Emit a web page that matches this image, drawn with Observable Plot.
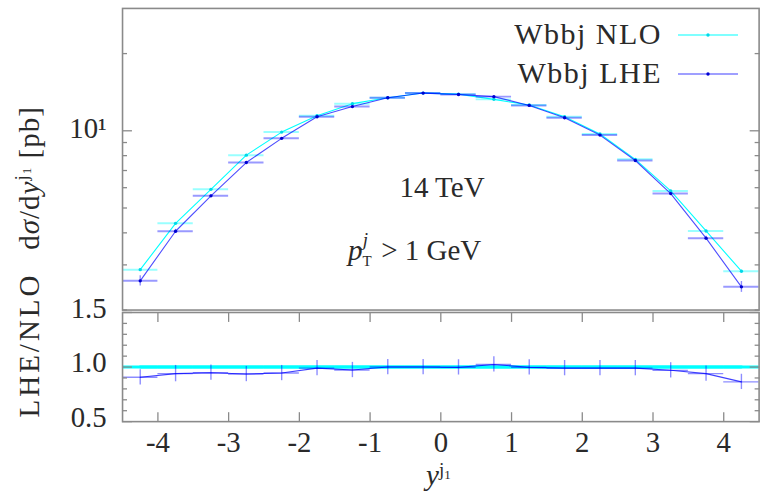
<!DOCTYPE html>
<html><head><meta charset="utf-8">
<script src="https://cdn.jsdelivr.net/npm/d3@7"></script>
<script src="https://cdn.jsdelivr.net/npm/@observablehq/plot@0.6"></script>
<style>
body{margin:0;background:#fff;overflow:hidden}
#wrap{position:relative;width:760px;height:496px;overflow:hidden;background:#fff}
#wrap svg{position:absolute;left:0;overflow:visible}
</style></head><body><div id="wrap"></div>
<script>
// ---- data ----
const binCenters = [-4.25,-3.75,-3.25,-2.75,-2.25,-1.75,-1.25,-0.75,-0.25,0.25,0.75,1.25,1.75,2.25,2.75,3.25,3.75,4.25];
const binWidth = 0.5;
const nloValues = [2.874,4.356,5.913,8.035,9.885,11.45,12.76,13.46,14.03,13.90,13.26,12.60,11.35,9.72,7.74,5.83,4.069,2.834];
const nloErrors = [0.03,0.03,0.03,0.04,0.04,0.04,0.04,0.04,0.04,0.04,0.04,0.04,0.04,0.04,0.04,0.03,0.03,0.03];
const lheValues = [2.600,4.058,5.576,7.52,9.346,11.34,12.43,13.46,14.03,13.86,13.59,12.56,11.24,9.62,7.66,5.69,3.813,2.464];
const lheErrors = [0.12,0.07,0.06,0.06,0.06,0.06,0.06,0.06,0.06,0.06,0.06,0.06,0.06,0.06,0.06,0.06,0.07,0.12];
const ratioValues = [0.906,0.94,0.948,0.936,0.945,0.99,0.973,1.0,1.0,0.997,1.024,0.997,0.99,0.99,0.99,0.97,0.94,0.864];
const ratioErrors = [0.07,0.075,0.07,0.07,0.07,0.07,0.07,0.07,0.07,0.07,0.07,0.07,0.07,0.07,0.07,0.07,0.07,0.07];
const nloRatio = [1,1,1,1,1,1,1,1,1,1,1,1,1,1,1,1,1,1];
const xTicks = [-4,-3,-2,-1,0,1,2,3,4];
const yMajorTop = [10];
const yMinorTop = [2,3,4,5,6,7,8,9,20];
const yMajorRatio = [0.5,1.0,1.5];
const yMinorRatio = [0.6,0.7,0.8,0.9,1.1,1.2,1.3,1.4];
const seriesNames = ["Wbbj NLO","Wbbj LHE"];

const rows = binCenters.map((c,i)=>({
  x:c, lo:c-binWidth/2, hi:c+binWidth/2,
  nlo:nloValues[i], nloE:nloErrors[i], lhe:lheValues[i], lheE:lheErrors[i],
  r:ratioValues[i], rE:ratioErrors[i], one:nloRatio[i]
}));

const CYAN="#00ffff", CYAND="#00d8e8", BLUE="#0000ff", BLUED="#0000d0", FRAME="#8a8a8a";
const style={fontFamily:"Liberation Serif",fontSize:"29px",color:"#2a2a2a",background:"transparent",overflow:"visible"};

function series(key, errKey, stroke, dotFill){
  return [
    Plot.line(rows,{x:"x",y:key,stroke,strokeWidth:1.1,strokeOpacity:key==="lhe"?0.7:1}),
    Plot.ruleY(rows,{x1:"lo",x2:"hi",y:key,stroke,strokeWidth:2,strokeOpacity:0.4}),
    Plot.ruleX(rows,{x:"x",y1:d=>d[key]-d[errKey],y2:d=>d[key]+d[errKey],stroke,strokeWidth:1.4,strokeOpacity:0.45}),
    Plot.dot(rows,{x:"x",y:key,r:1.7,fill:dotFill,stroke:null})
  ];
}
function yTicksBoth(major, minor){
  return [
    Plot.axisY({ticks:major,anchor:"left",tickSize:-10,tickFormat:()=>"",label:null,stroke:FRAME,strokeWidth:1.3}),
    Plot.axisY({ticks:major,anchor:"right",tickSize:-10,tickFormat:()=>"",label:null,stroke:FRAME,strokeWidth:1.3}),
    Plot.axisY({ticks:minor,anchor:"left",tickSize:-5,tickFormat:()=>"",label:null,stroke:FRAME,strokeWidth:1.3}),
    Plot.axisY({ticks:minor,anchor:"right",tickSize:-5,tickFormat:()=>"",label:null,stroke:FRAME,strokeWidth:1.3})
  ];
}

const topPlot = Plot.plot({
  width:766, height:313, marginLeft:123, marginRight:1.4, marginTop:8, marginBottom:1,
  style,
  x:{domain:[-4.5,4.5],axis:null,label:null},
  y:{type:"log",domain:[2,30],label:null},
  marks:[
    ...series("nlo","nloE",CYAN,CYAND),
    ...series("lhe","lheE",BLUE,BLUED),
    ...yTicksBoth(yMajorTop,yMinorTop),
    Plot.axisY({ticks:yMajorTop,anchor:"left",tickSize:0,tickPadding:16,dy:-2,tickFormat:()=>"10¹",label:null}),
    Plot.frame({stroke:FRAME,strokeWidth:1.6})
  ]
});
topPlot.style.top="0px";

const ratioPlot = Plot.plot({
  width:766, height:185, marginLeft:123, marginRight:1.4, marginTop:1, marginBottom:74,
  style,
  x:{domain:[-4.5,4.5],label:null},
  y:{domain:[0.5,1.5],label:null},
  marks:[
    Plot.line(rows,{x:"x",y:"one",stroke:CYAN,strokeWidth:3}),
    Plot.ruleY(rows,{x1:"lo",x2:"hi",y:"one",stroke:CYAN,strokeWidth:3}),
    Plot.line(rows,{x:"x",y:"r",stroke:BLUE,strokeWidth:1.1,strokeOpacity:0.75}),
    Plot.ruleY(rows,{x1:"lo",x2:"hi",y:"r",stroke:BLUE,strokeWidth:1.4,strokeOpacity:0.45}),
    Plot.ruleX(rows,{x:"x",y1:d=>d.r-d.rE,y2:d=>d.r+d.rE,stroke:BLUE,strokeWidth:1.4,strokeOpacity:0.45}),
    ...yTicksBoth(yMajorRatio,yMinorRatio),
    Plot.axisX({ticks:xTicks,anchor:"bottom",tickSize:-9,tickFormat:()=>"",label:null,stroke:FRAME,strokeWidth:1.3}),
    Plot.axisX({ticks:xTicks,anchor:"top",tickSize:-9,tickFormat:()=>"",label:null,stroke:FRAME,strokeWidth:1.3}),
    Plot.axisX({ticks:xTicks,anchor:"bottom",tickSize:0,tickPadding:10.5,tickFormat:d=>String(d),label:null}),
    Plot.axisY({ticks:yMajorRatio,anchor:"left",tickSize:0,tickPadding:16,dy:-4,tickFormat:d3.format(".1f"),label:null}),
    Plot.frame({stroke:FRAME,strokeWidth:1.6})
  ]
});
ratioPlot.style.top="311px";

const wrap=document.getElementById("wrap");
wrap.appendChild(topPlot);
wrap.appendChild(ratioPlot);

// ---- overlay texts and legend ----
const ov=d3.select(wrap).append("svg").attr("width",760).attr("height",496)
  .style("top","0px").attr("font-family","Liberation Serif").attr("fill","#2a2a2a");

// y label
const yl1=ov.append("text").attr("transform","translate(39,178) rotate(-90)").attr("text-anchor","middle")
  .attr("font-size",29).attr("letter-spacing","1px");
yl1.append("tspan").text("d");
yl1.append("tspan").attr("font-style","italic").text("σ");
yl1.append("tspan").text("/d");
yl1.append("tspan").attr("font-style","italic").text("y");
yl1.append("tspan").attr("font-size",19).attr("dy",-11).text("j");
yl1.append("tspan").attr("font-size",13).attr("dy",3).text("1");
yl1.append("tspan").attr("dy",8).text("  [pb]");
ov.append("text").attr("transform","translate(39,345) rotate(-90)").attr("text-anchor","middle")
  .attr("font-size",29).attr("letter-spacing","3px").text("LHE/NLO");

// x label
const xl=ov.append("text").attr("x",426).attr("y",485).attr("font-size",29);
xl.append("tspan").attr("font-style","italic").text("y");
xl.append("tspan").attr("font-size",19).attr("dy",-9).text("j");
xl.append("tspan").attr("font-size",13).attr("dy",3).text("1");

// annotations
ov.append("text").attr("x",442).attr("y",197).attr("text-anchor","middle").attr("font-size",29).text("14 TeV");
const pt=ov.append("text").attr("x",348).attr("y",260).attr("font-size",29);
pt.append("tspan").attr("font-style","italic").text("p");
pt.append("tspan").attr("font-size",15).attr("dy",6).text("T");
pt.append("tspan").attr("font-size",19).attr("font-style","italic").attr("dx",-9).attr("dy",-20).text("j");
pt.append("tspan").attr("dx",6).attr("dy",14).text(" > 1 GeV");

// legend
const legendColors=[[CYAN,CYAND],[BLUE,BLUED]];
const legendY=[35,74];
seriesNames.forEach((name,i)=>{
  ov.append("text").attr("x",662).attr("y",legendY[i]+9).attr("text-anchor","end")
    .attr("font-size",30).attr("letter-spacing","1.5px").text(name);
  ov.append("line").attr("x1",678).attr("x2",738).attr("y1",legendY[i]).attr("y2",legendY[i])
    .attr("stroke",legendColors[i][0]).attr("stroke-width",1.1).attr("stroke-opacity",i?0.75:1);
  ov.append("circle").attr("cx",708).attr("cy",legendY[i]).attr("r",1.7).attr("fill",legendColors[i][1]);
});
</script></body></html>
